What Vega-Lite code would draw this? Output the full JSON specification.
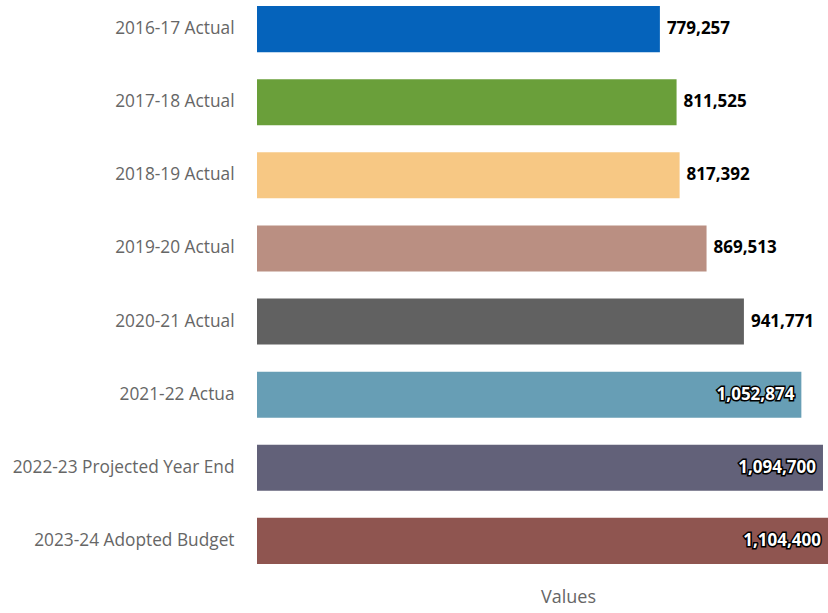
{
  "$schema": "https://vega.github.io/schema/vega-lite/v6.json",
  "width": 571,
  "height": 568,
  "padding": {"left": 12, "top": 1, "right": 0, "bottom": 0},
  "autosize": {"type": "pad"},
  "config": {"view": {"stroke": null}, "font": "Open Sans"},
  "data": {
    "values": [
      {"year": "2016-17 Actual", "value": 779257},
      {"year": "2017-18 Actual", "value": 811525},
      {"year": "2018-19 Actual", "value": 817392},
      {"year": "2019-20 Actual", "value": 869513},
      {"year": "2020-21 Actual", "value": 941771},
      {"year": "2021-22 Actua", "value": 1052874},
      {"year": "2022-23 Projected Year End", "value": 1094700},
      {"year": "2023-24 Adopted Budget", "value": 1104400}
    ]
  },
  "encoding": {
    "y": {
      "field": "year", "type": "nominal", "sort": null,
      "scale": {"paddingInner": 0.37, "paddingOuter": 0.07},
      "axis": {"title": null, "domain": false, "ticks": false, "labelPadding": 23, "labelFontSize": 17.3, "labelColor": "#666666", "labelFont": "Open Sans", "labelLimit": 300}
    },
    "x": {
      "field": "value", "type": "quantitative",
      "scale": {"domain": [0, 1104400], "nice": false},
      "axis": {"title": "Values", "titleFontSize": 18, "titleFontWeight": "normal", "titleColor": "#666666", "titleFont": "Open Sans", "labels": false, "ticks": false, "domain": false, "grid": false, "titlePadding": 19, "titleX": 311}
    }
  },
  "layer": [
    {
      "mark": {"type": "bar"},
      "encoding": {
        "color": {
          "field": "year", "type": "nominal", "sort": null, "legend": null,
          "scale": {"range": ["#0563BB", "#6A9F3A", "#F7C884", "#BA8F82", "#616161", "#679EB5", "#626179", "#8F5550"]}
        }
      }
    },
    {
      "transform": [{"filter": "datum.value < 1000000"}],
      "mark": {"type": "text", "align": "left", "dx": 7, "fontSize": 17, "fontWeight": "bold", "color": "#000000", "font": "Open Sans"},
      "encoding": {"text": {"field": "value", "type": "quantitative", "format": ","}}
    },
    {
      "transform": [{"filter": "datum.value >= 1000000"}],
      "mark": {"type": "text", "align": "right", "dx": -7, "fontSize": 17, "fontWeight": "bold", "color": "#ffffff", "stroke": "#000000", "strokeWidth": 3, "font": "Open Sans"},
      "encoding": {"text": {"field": "value", "type": "quantitative", "format": ","}}
    },
    {
      "transform": [{"filter": "datum.value >= 1000000"}],
      "mark": {"type": "text", "align": "right", "dx": -7, "fontSize": 17, "fontWeight": "bold", "color": "#ffffff", "font": "Open Sans"},
      "encoding": {"text": {"field": "value", "type": "quantitative", "format": ","}}
    }
  ]
}
